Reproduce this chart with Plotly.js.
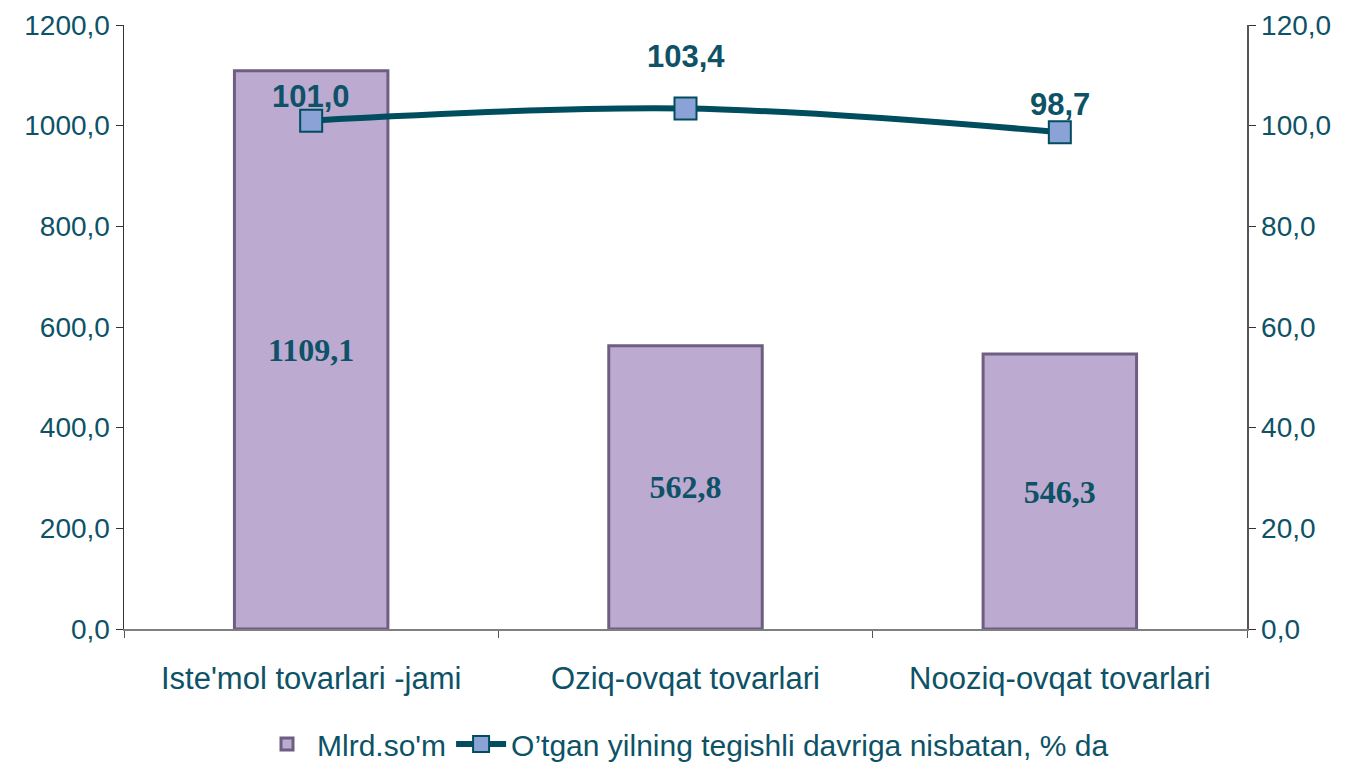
<!DOCTYPE html>
<html>
<head>
<meta charset="utf-8">
<script src="https://cdn.plot.ly/plotly-3.0.1.min.js"></script>
<style>
html,body{margin:0;padding:0;background:#ffffff;}
#chart{width:1350px;height:767px;}
</style>
</head>
<body>
<div id="chart"></div>
<script>
const categories = ["Iste'mol tovarlari -jami", "Oziq-ovqat tovarlari", "Nooziq-ovqat tovarlari"];
const valuesMlrd = [1109.1, 562.8, 546.3];
const valuesPct = [101.0, 103.4, 98.7];
const barName = "Mlrd.so'm";
const lineName = "O’tgan yilning tegishli davriga nisbatan, % da";

// label offsets above the line markers (style, pixels)
const pctLabelShift = [24, 52, 28];

const teal = '#0d5266';
const lineColor = '#004d60';

const traces = [
  {
    type: 'bar',
    x: categories,
    y: valuesMlrd,
    name: barName,
    width: 0.41,
    marker: {color: '#bcaad1', line: {color: '#6e5f82', width: 3}},
    texttemplate: '%{y:.1f}',
    textposition: 'inside',
    insidetextanchor: 'middle',
    textangle: 0,
    textfont: {family: 'Liberation Serif, DejaVu Serif, serif', size: 32, color: teal, weight: 'bold'},
    hoverinfo: 'skip',
    yaxis: 'y'
  },
  {
    type: 'scatter',
    mode: 'lines+markers',
    x: categories,
    y: valuesPct,
    name: lineName,
    yaxis: 'y2',
    line: {color: lineColor, width: 6, shape: 'spline', smoothing: 1},
    marker: {symbol: 'square', size: 22, color: '#8aa2d6', line: {color: lineColor, width: 2}},
    cliponaxis: false
  }
];

const annotations = categories.map((c, i) => ({
  x: c,
  y: valuesPct[i],
  xref: 'x',
  yref: 'y2',
  text: valuesPct[i].toFixed(1).replace('.', ','),
  showarrow: false,
  yshift: pctLabelShift[i],
  font: {family: 'Liberation Sans, Arial, sans-serif', size: 31, color: teal, weight: 'bold'}
}));

const tickFont = {family: 'Liberation Sans, Arial, sans-serif', size: 28, color: teal};

const layout = {
  width: 1350,
  height: 767,
  margin: {l: 124, r: 103, t: 25, b: 138, autoexpand: false},
  paper_bgcolor: '#ffffff',
  plot_bgcolor: 'rgba(0,0,0,0)',
  separators: ', ',
  showlegend: true,
  annotations: annotations,
  legend: {
    orientation: 'h',
    x: 0.5, xanchor: 'center',
    yref: 'container',
    y: 0.03, yanchor: 'middle',
    font: {family: 'Liberation Sans, Arial, sans-serif', size: 30, color: teal},
    itemwidth: 50,
    tracegroupgap: 0
  },
  xaxis: {
    type: 'category',
    automargin: false,
    showline: true, linecolor: '#7f7f7f', linewidth: 1.5,
    ticks: 'outside', tickson: 'boundaries', ticklen: 7, tickcolor: '#555',
    tickfont: {family: 'Liberation Sans, Arial, sans-serif', size: 31, color: teal},
    ticklabelstandoff: 21,
    showgrid: false,
    zeroline: false,
    fixedrange: true
  },
  yaxis: {
    range: [0, 1200],
    dtick: 200,
    tickformat: '.1f',
    automargin: false,
    showline: true, linecolor: '#333', linewidth: 1.5,
    ticks: 'outside', ticklen: 7, tickcolor: '#333',
    tickfont: tickFont,
    showgrid: false,
    zeroline: false
  },
  yaxis2: {
    range: [0, 120],
    dtick: 20,
    tickformat: '.1f',
    overlaying: 'y',
    side: 'right',
    automargin: false,
    showline: true, linecolor: '#555', linewidth: 1.5,
    ticks: 'outside', ticklen: 7, tickcolor: '#333',
    tickfont: tickFont,
    showgrid: false,
    zeroline: false
  }
};

Plotly.newPlot('chart', traces, layout, {displayModeBar: false, staticPlot: true});
</script>
</body>
</html>
